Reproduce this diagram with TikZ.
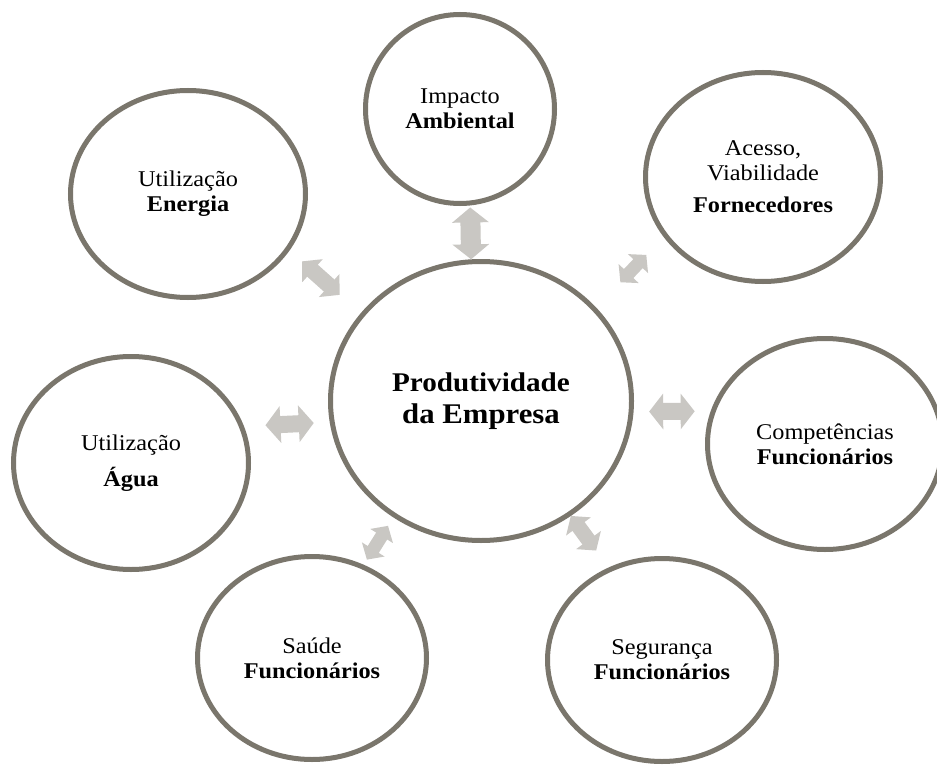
\documentclass[tikz,border=0pt]{standalone}
\usepackage{fontspec}
\setmainfont[FakeStretch=1.08]{Liberation Serif}
\usetikzlibrary{shapes.geometric,arrows.meta}
\definecolor{ringc}{RGB}{122,118,108}
\definecolor{arrc}{RGB}{201,199,195}
\begin{document}
\begin{tikzpicture}[x=1pt,y=-1pt,
  circ/.style={ellipse, draw=ringc, line width=5pt, fill=white, inner sep=0pt, align=center, font=\fontsize{22.5}{25}\selectfont},
  dblarr/.style n args={3}{draw=arrc, line width=#1, <->, >={Triangle[width=#2,length=#3]}},
]
\fill[white] (0,0) rectangle (937,765);
\useasboundingbox (0,0) rectangle (937,765);
\node[circ, minimum width=189pt, minimum height=189pt] (imp) at (460,109) {Impacto\\\textbf{Ambiental}};
\node[circ, minimum width=235pt, minimum height=207pt] (ene) at (188,194) {Utilização\\\textbf{Energia}};
\node[circ, minimum width=235pt, minimum height=209pt] (ace) at (763,177) {Acesso,\\Viabilidade\\[7pt]\textbf{Fornecedores}};
\node[circ, minimum width=301pt, minimum height=279pt, font=\fontsize{27}{32}\selectfont\bfseries] (prod) at (481,401) {Produtividade\\{\fontsize{28.5}{32}\selectfont da Empresa}};
\node[circ, minimum width=235pt, minimum height=213pt] (agua) at (131,463) {Utilização\\[11pt]\textbf{Água}};
\node[circ, minimum width=235pt, minimum height=211pt] (comp) at (825,444) {Competências\\\textbf{Funcionários}};
\node[circ, minimum width=229pt, minimum height=203pt] (sau) at (312,658) {Saúde\\\textbf{Funcionários}};
\node[circ, minimum width=229pt, minimum height=203pt] (seg) at (662,660) {Segurança\\\textbf{Funcionários}};
\draw[dblarr={20pt}{36pt}{15pt}, shorten <=2pt] (imp.-84.1) -- (prod.94.4);
\draw[dblarr={16pt}{30pt}{14pt}, shorten <=16.6pt, shorten >=28pt] (ene.-29.5) -- (prod.144.6);
\draw[dblarr={13pt}{27pt}{12pt}, shorten <=35pt, shorten >=25pt] (prod.39.8) -- (ace.211.3);
\draw[dblarr={17pt}{36pt}{15pt}, shorten <=21.5pt, shorten >=16pt] (agua.18.7) -- (prod.188.9);
\draw[dblarr={17pt}{35pt}{14pt}, shorten <=15.6pt, shorten >=16pt] (prod.-4.5) -- (comp.164.9);
\draw[dblarr={13pt}{26pt}{12pt}, shorten <=6pt, shorten >=10pt] (sau.61.4) -- (prod.233.8);
\draw[dblarr={15pt}{30pt}{13pt}, shorten <=0pt, shorten >=21pt] (prod.-52.5) -- (seg.120.3);
\end{tikzpicture}
\end{document}
